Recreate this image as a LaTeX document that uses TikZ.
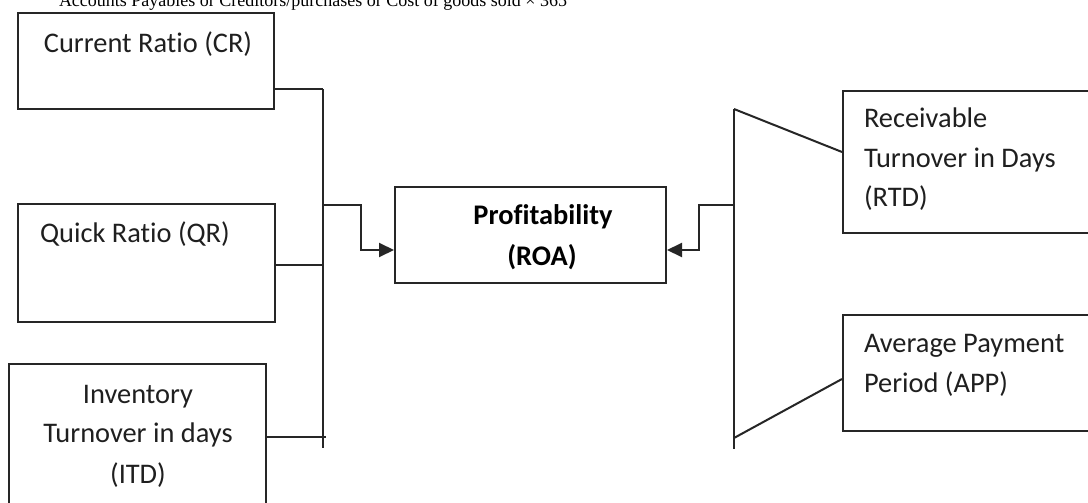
\documentclass[tikz,border=0pt]{standalone}
\usepackage{fontspec}
\setmainfont[Ligatures={NoCommon}]{Carlito}
\newfontfamily\serifx{Liberation Serif}
\usetikzlibrary{fit,arrows.meta}
\begin{document}
\begin{tikzpicture}[x=0.5pt,y=-0.5pt,
  line width=1pt, draw=black!85,
  box/.style={draw=black!85, line width=1pt, rectangle, inner sep=0pt},
  lbl/.style={inner sep=0pt, text=black!88, font=\fontsize{14.2pt}{20pt}\selectfont},
  blbl/.style={inner sep=0pt, text=black, font=\fontsize{14.2pt}{20pt}\selectfont\bfseries},
  conn/.style={draw=black!85, line width=1pt},
  arr/.style={conn, -{Triangle[length=7.5pt,width=7pt]}}]
\useasboundingbox (0,0) rectangle (1088,503);
\clip (0,0) rectangle (1088,503);
\fill[white] (0,0) rectangle (1088,503);

% top cut-off text
\node[inner sep=0pt, anchor=base west, font=\serifx\fontsize{9pt}{11pt}\selectfont] (top) at (58,6)
  {Accounts Payables or Creditors/purchases or Cost of goods sold × 365};

% boxes
\node[box, fit={(18,13) (274,109)}] (cr) {};
\node[box, fit={(18,204) (275,322)}] (qr) {};
\node[box, fit={(9,364) (266,530)}] (itd) {};
\node[box, fit={(395,187) (666,283)}] (roa) {};
\node[box, fit={(843,91) (1100,233)}] (rtd) {};
\node[box, fit={(843,315) (1100,431)}] (app) {};

% texts
\node[lbl, anchor=base] (crt) at (148,53) {Current Ratio (CR)};
\node[lbl, anchor=base west] (qrt) at (39,242) {Quick Ratio (QR)};
\node[lbl, anchor=base] (itd1) at (138,403) {Inventory};
\node[lbl, anchor=base] (itd2) at (138,442) {Turnover in days};
\node[lbl, anchor=base] (itd3) at (138,483) {(ITD)};
\node[blbl, anchor=base] (roa1) at (543,224) {Profitability};
\node[blbl, anchor=base] (roa2) at (542,265) {(ROA)};
\node[lbl, anchor=base west] (rtd1) at (863,127) {Receivable};
\node[lbl, anchor=base west] (rtd2) at (863,167) {Turnover in Days};
\node[lbl, anchor=base west] (rtd3) at (863,206) {(RTD)};
\node[lbl, anchor=base west] (app1) at (863,352) {Average Payment};
\node[lbl, anchor=base west] (app2) at (863,392) {Period (APP)};

% spine coordinates
\coordinate (lt) at (323,89);
\coordinate (lb) at (323,448);
\coordinate (lq) at (323,265);
\coordinate (li) at (326,437);
\coordinate (lm) at (323,205);
\coordinate (lk1) at (361,205);
\coordinate (lk2) at (361,250);
\coordinate (rt) at (734,109);
\coordinate (rb) at (734,449);
\coordinate (rm) at (734,205);
\coordinate (rd) at (734,438);
\coordinate (rk1) at (699,205);
\coordinate (rk2) at (699,250);

% left side
\draw[conn] (lt) -- (lb);
\draw[conn] (cr.east |- lt) -- (lt);
\draw[conn] (qr.east |- lq) -- (lq);
\draw[conn] (itd.east |- li) -- (li);
\draw[arr] (lm) -- (lk1) -- (lk2) -- (roa.west |- lk2);

% right side
\draw[conn] (rt) -- (rb);
\draw[conn] (rt) -- (rtd.west |- 0,152);
\draw[conn] (rd) -- (app.west |- 0,379);
\draw[arr] (rm) -- (rk1) -- (rk2) -- (roa.east |- rk2);
\end{tikzpicture}
\end{document}
